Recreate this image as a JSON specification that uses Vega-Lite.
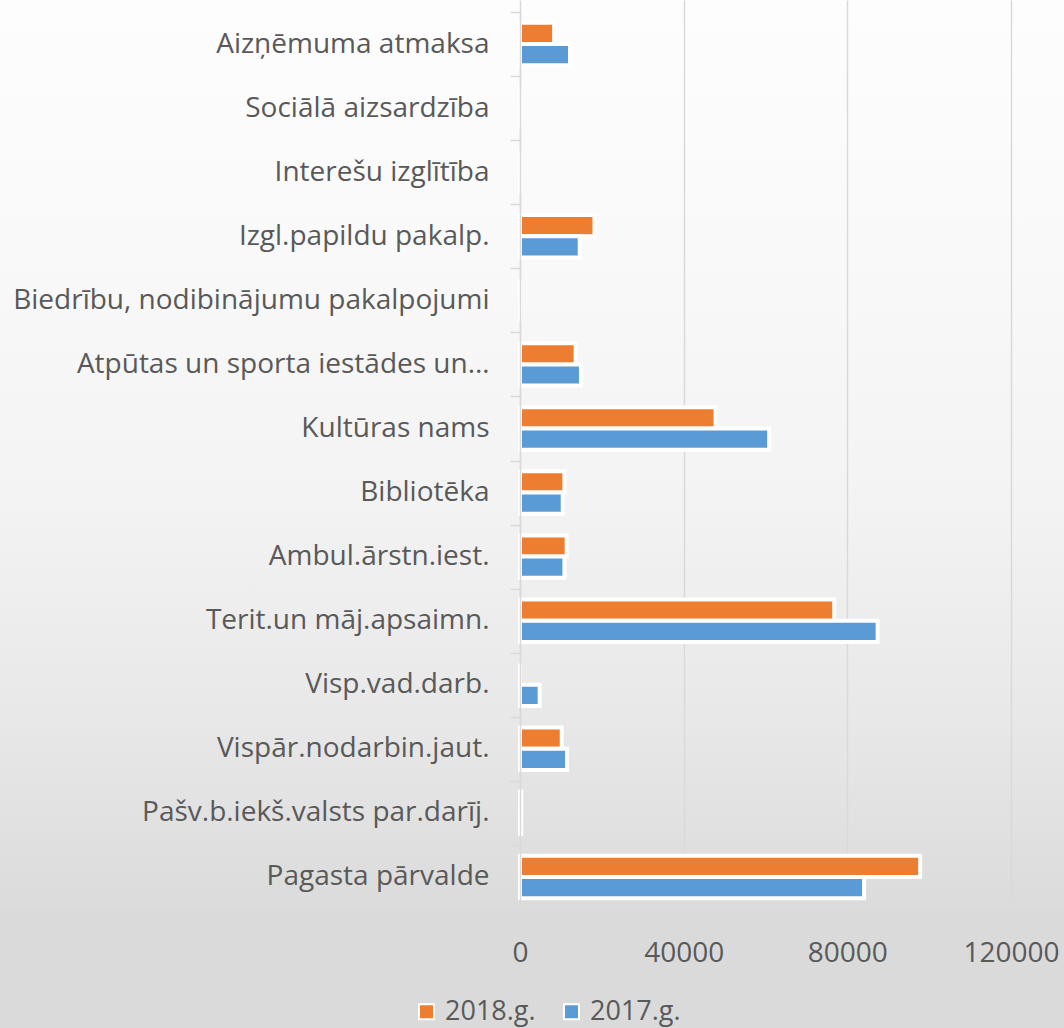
{
  "$schema": "https://vega.github.io/schema/vega-lite/v6.json",
  "width": 1064,
  "height": 909,
  "autosize": "none",
  "padding": {"left": 0, "top": 0, "right": 0, "bottom": 119},
  "background": "#dadada",
  "config": {
    "font": "Open Sans",
    "view": {
      "stroke": null,
      "fill": {
        "gradient": "linear",
        "x1": 0, "y1": 0, "x2": 0, "y2": 1,
        "stops": [
          {"offset": 0, "color": "#fdfdfd"},
          {"offset": 0.275, "color": "#f9f9f9"},
          {"offset": 0.55, "color": "#f3f3f3"},
          {"offset": 0.79, "color": "#e8e8e8"},
          {"offset": 1, "color": "#dbdbdb"}
        ]
      }
    }
  },
  "data": {
    "values": [
      {"category": "Aizņēmuma atmaksa", "year": "2018.g.", "value": 8350},
      {"category": "Aizņēmuma atmaksa", "year": "2017.g.", "value": 12220},
      {"category": "Sociālā aizsardzība", "year": "2018.g.", "value": 0},
      {"category": "Sociālā aizsardzība", "year": "2017.g.", "value": 0},
      {"category": "Interešu izglītība", "year": "2018.g.", "value": 0},
      {"category": "Interešu izglītība", "year": "2017.g.", "value": 0},
      {"category": "Izgl.papildu pakalp.", "year": "2018.g.", "value": 18200},
      {"category": "Izgl.papildu pakalp.", "year": "2017.g.", "value": 14600},
      {"category": "Biedrību, nodibinājumu pakalpojumi", "year": "2018.g.", "value": 0},
      {"category": "Biedrību, nodibinājumu pakalpojumi", "year": "2017.g.", "value": 0},
      {"category": "Atpūtas un sporta iestādes un…", "year": "2018.g.", "value": 13600},
      {"category": "Atpūtas un sporta iestādes un…", "year": "2017.g.", "value": 14900},
      {"category": "Kultūras nams", "year": "2018.g.", "value": 47800},
      {"category": "Kultūras nams", "year": "2017.g.", "value": 60900},
      {"category": "Bibliotēka", "year": "2018.g.", "value": 10850},
      {"category": "Bibliotēka", "year": "2017.g.", "value": 10440},
      {"category": "Ambul.ārstn.iest.", "year": "2018.g.", "value": 11400},
      {"category": "Ambul.ārstn.iest.", "year": "2017.g.", "value": 10850},
      {"category": "Terit.un māj.apsaimn.", "year": "2018.g.", "value": 76800},
      {"category": "Terit.un māj.apsaimn.", "year": "2017.g.", "value": 87400},
      {"category": "Visp.vad.darb.", "year": "2018.g.", "value": 0},
      {"category": "Visp.vad.darb.", "year": "2017.g.", "value": 4800},
      {"category": "Vispār.nodarbin.jaut.", "year": "2018.g.", "value": 10200},
      {"category": "Vispār.nodarbin.jaut.", "year": "2017.g.", "value": 11500},
      {"category": "Pašv.b.iekš.valsts par.darīj.", "year": "2018.g.", "value": 300},
      {"category": "Pašv.b.iekš.valsts par.darīj.", "year": "2017.g.", "value": 300},
      {"category": "Pagasta pārvalde", "year": "2018.g.", "value": 97800},
      {"category": "Pagasta pārvalde", "year": "2017.g.", "value": 84100}
    ]
  },
  "mark": {"type": "bar", "stroke": "white", "strokeWidth": 4},
  "encoding": {
    "y": {
      "field": "category",
      "type": "nominal",
      "sort": null,
      "scale": {"range": [12, 909], "paddingInner": 0, "paddingOuter": 0},
      "axis": {
        "title": null,
        "offset": -520,
        "zindex": 1,
        "grid": false,
        "domainColor": "#d9d9d9",
        "domainWidth": 1.5,
        "tickColor": "#d9d9d9",
        "tickWidth": 1.5,
        "tickSize": 10,
        "tickBand": "extent",
        "labelFont": "Open Sans",
        "labelFontSize": 28,
        "labelColor": "#595959",
        "labelPadding": 21,
        "labelLimit": 1000
      }
    },
    "yOffset": {
      "field": "year",
      "type": "nominal",
      "sort": ["2018.g.", "2017.g."],
      "scale": {"paddingInner": 0, "paddingOuter": 0.51}
    },
    "x": {
      "field": "value",
      "type": "quantitative",
      "stack": null,
      "scale": {"domain": [0, 120000], "range": [520, 1011], "nice": false, "zero": true},
      "axis": {
        "title": null,
        "orient": "bottom",
        "domain": false,
        "ticks": false,
        "grid": true,
        "gridColor": "#d9d9d9",
        "gridWidth": 1.5,
        "values": [0, 40000, 80000, 120000],
        "format": "d",
        "labelFont": "Open Sans",
        "labelFontSize": 28,
        "labelColor": "#595959",
        "labelPadding": 30,
        "labelFlush": false
      }
    },
    "color": {
      "field": "year",
      "type": "nominal",
      "scale": {"domain": ["2018.g.", "2017.g."], "range": ["#ED7D31", "#5B9BD5"]},
      "legend": {
        "title": null,
        "orient": "none",
        "legendX": 413,
        "legendY": 998,
        "direction": "horizontal",
        "padding": 0,
        "symbolType": "square",
        "symbolSize": 225,
        "symbolStrokeColor": "white",
        "symbolStrokeWidth": 2,
        "symbolOpacity": 1,
        "labelFont": "Open Sans",
        "labelFontSize": 27,
        "labelColor": "#595959",
        "labelOffset": 5,
        "columnPadding": 22
      }
    }
  }
}
